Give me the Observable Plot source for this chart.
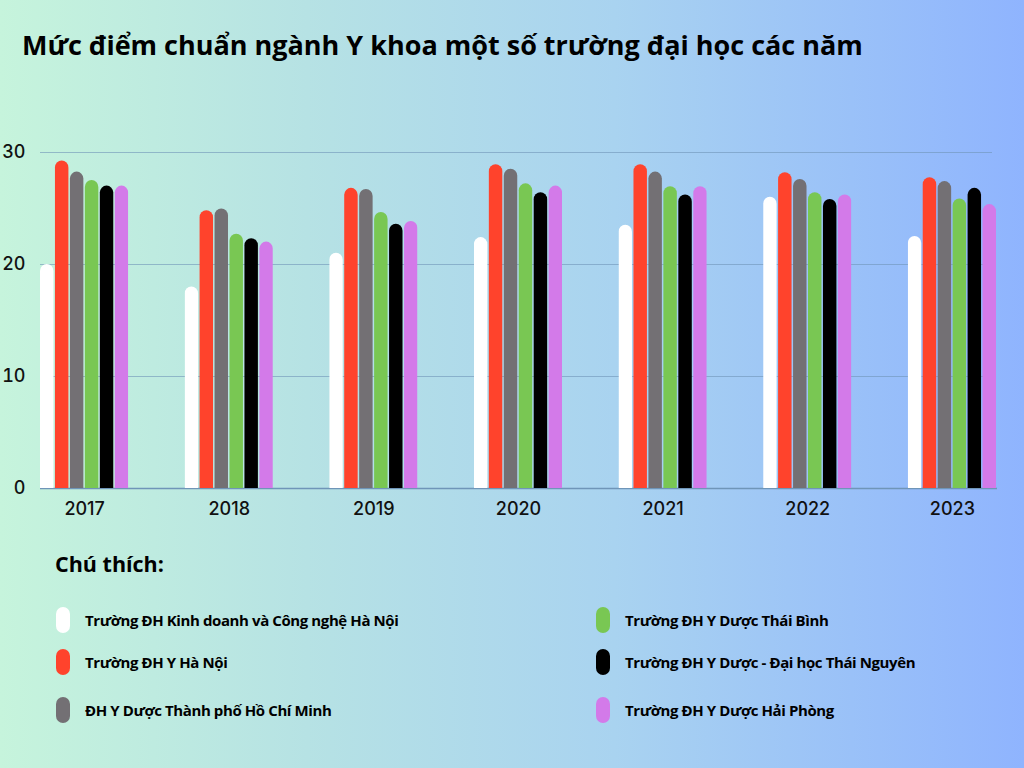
<!DOCTYPE html>
<html>
<head>
<meta charset="utf-8">
<script src="https://cdn.jsdelivr.net/npm/d3@7"></script>
<script src="https://cdn.jsdelivr.net/npm/@observablehq/plot@0.6"></script>
<style>
  html, body { margin: 0; padding: 0; }
  body {
    width: 1024px; height: 768px; overflow: hidden; position: relative;
    background: linear-gradient(90deg, #c6f4dc 0%, #b6e2e4 30%, #a9d3f0 60%, #8fb4fe 100%);
    font-family: "Open Sans", "Noto Sans", sans-serif;
  }
  #title { position: absolute; left: 22px; top: 26px; font-size: 27px; font-weight: 700; color: #000; white-space: nowrap; }
  #grid, #chart { position: absolute; left: 0; top: 100px; }
  #legtitle { position: absolute; left: 55px; top: 549px; font-size: 21.5px; font-weight: 700; color: #000; }
  .item { position: absolute; display: flex; align-items: center; font-size: 15px; font-weight: 700; color: #000; white-space: nowrap; letter-spacing: -0.4px; }
  .sw { width: 14px; height: 26px; border-radius: 7px; margin-right: 15px; }
</style>
</head>
<body>
<div id="title">Mức điểm chuẩn ngành Y khoa một số trường đại học các năm</div>
<div id="grid"></div>
<div id="chart"></div>
<div id="legtitle">Chú thích:</div>
<div id="legend"></div>
<script>
const years = ["2017", "2018", "2019", "2020", "2021", "2022", "2023"];
const schools = [
  "Trường ĐH Kinh doanh và Công nghệ Hà Nội",
  "Trường ĐH Y Hà Nội",
  "ĐH Y Dược Thành phố Hồ Chí Minh",
  "Trường ĐH Y Dược Thái Bình",
  "Trường ĐH Y Dược - Đại học Thái Nguyên",
  "Trường ĐH Y Dược Hải Phòng"
];
const colors = ["#ffffff", "#ff432c", "#737074", "#79c753", "#000000", "#d37ae9"];
const kinhDoanh  = [20.0, 18.0, 21.0, 22.4, 23.5, 26.0, 22.5];
const yHaNoi     = [29.25, 24.8, 26.8, 28.9, 28.9, 28.2, 27.75];
const yDuocHCM   = [28.25, 24.95, 26.7, 28.5, 28.25, 27.6, 27.4];
const thaiBinh   = [27.5, 22.7, 24.65, 27.2, 26.95, 26.4, 25.85];
const thaiNguyen = [27.0, 22.3, 23.6, 26.4, 26.2, 25.8, 26.8];
const haiPhong   = [27.0, 22.0, 23.85, 27.0, 26.95, 26.2, 25.35];
const yTicks = [0, 10, 20, 30];

const series = [kinhDoanh, yHaNoi, yDuocHCM, thaiBinh, thaiNguyen, haiPhong];
const data = [];
years.forEach((y, i) => schools.forEach((s, j) => data.push({year: y, school: s, value: series[j][i]})));

const common = {
  width: 1024,
  height: 432,
  marginTop: 52,
  marginBottom: 44,
  marginLeft: 40,
  marginRight: 28,
  style: { background: "transparent", fontFamily: "Inter, sans-serif", color: "#111", fontSize: "18px", fontWeight: 500 }
};

// background layer: y axis, grid and baseline
const grid = Plot.plot({
  ...common,
  marginRight: 32,
  x: { axis: null },
  y: { domain: [0, 30], ticks: yTicks, label: null, tickSize: 0, tickPadding: 15 },
  marks: [
    Plot.gridY(yTicks.slice(1), { stroke: "#6f95b8", strokeOpacity: 0.6, strokeWidth: 1.2 }),
    Plot.ruleY([0], { stroke: "#6f95b8", strokeWidth: 1.5, insetRight: -5 })
  ]
});
document.getElementById("grid").appendChild(grid);

// bars layer: rounded bars starting below the baseline, clipped to the frame (flat base)
const chart = Plot.plot({
  ...common,
  fx: { domain: years, paddingInner: 0.39, paddingOuter: 0, round: false, label: null, tickSize: 0, tickPadding: 14 },
  x: { domain: schools, paddingInner: 0.1, paddingOuter: 0, round: false, axis: null },
  y: { domain: [0, 30], axis: null },
  color: { domain: schools, range: colors },
  marks: [
    Plot.barY(data, { fx: "year", x: "school", y1: -1, y2: "value", fill: "school", rx: 7, clip: true })
  ]
});
document.getElementById("chart").appendChild(chart);

const legend = document.getElementById("legend");
const pos = [[56, 607], [56, 649], [56, 697], [596, 607], [596, 649], [596, 697]];
schools.forEach((s, i) => {
  const el = document.createElement("div");
  el.className = "item";
  el.style.left = pos[i][0] + "px";
  el.style.top = pos[i][1] + "px";
  el.innerHTML = `<div class="sw" style="background:${colors[i]}"></div><span>${s}</span>`;
  legend.appendChild(el);
});
</script>
</body>
</html>
